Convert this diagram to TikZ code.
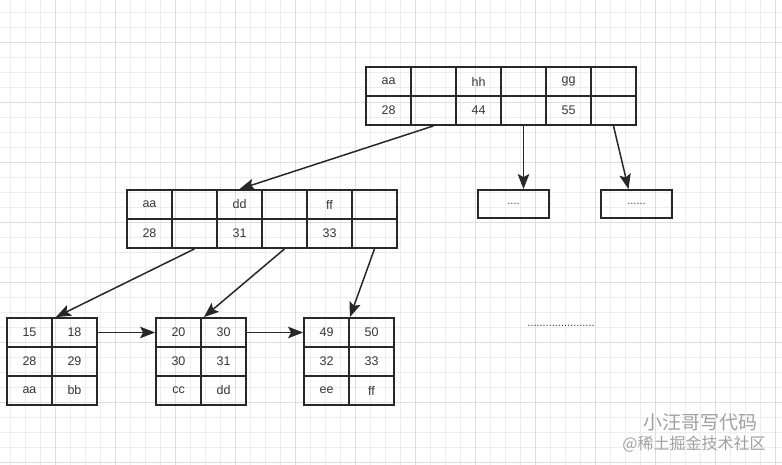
\documentclass[tikz,border=0pt]{standalone}
\usepackage{fontspec}
\setmainfont{Liberation Sans}
\newfontfamily\cjkfont{Noto Sans CJK SC}
\usetikzlibrary{arrows.meta,positioning,calc}
\definecolor{lineGray}{RGB}{40,40,40}
\definecolor{textGray}{RGB}{55,55,55}
\definecolor{gridMinor}{RGB}{237,237,237}
\definecolor{gridMajor}{RGB}{222,222,222}
\definecolor{markGray}{RGB}{160,160,160}
\tikzset{
  cell/.style={draw=lineGray, line width=1.8pt, minimum width=45pt, minimum height=29pt,
    inner sep=0pt, text=textGray, font=\fontsize{12.5}{14}\selectfont},
  dotbox/.style={draw=lineGray, line width=1.8pt, minimum width=71pt, minimum height=28pt,
    inner sep=0pt, text=textGray, font=\fontsize{11}{13}\selectfont},
  link/.style={draw=lineGray, line width=1.5pt, -{Stealth[length=15pt,width=11.5pt,inset=3pt]}},
}

\begin{document}
\begin{tikzpicture}[x=1pt,y=-1pt]
    \useasboundingbox (0,0) rectangle (782,465);
    \fill[white] (0,0) rectangle (782,465);
    % grid paper
    \foreach \gx in {10,25,...,780} \draw[gridMinor, line width=0.8pt] (\gx,0) -- (\gx,465);
    \foreach \gy in {12,27,...,465} \draw[gridMinor, line width=0.8pt] (0,\gy) -- (782,\gy);
    \foreach \gx in {55,115,...,780} \draw[gridMajor, line width=0.9pt] (\gx,0) -- (\gx,465);
    \foreach \gy in {42,102,...,465} \draw[gridMajor, line width=0.9pt] (0,\gy) -- (782,\gy);
    % root page
    \foreach \lbl [count=\c] in {aa,,hh,,gg,}
      \node[cell] (t1\c) at ({388.5+45*(\c-1)},81.5) {\lbl};
    \foreach \lbl [count=\c] in {28,,44,,55,}
      \node[cell] (t2\c) at ({388.5+45*(\c-1)},110.5) {\lbl};
    % inner page
    \foreach \lbl [count=\c] in {aa,,dd,,ff,}
      \node[cell] (m1\c) at ({149.5+45*(\c-1)},204.5) {\lbl};
    \foreach \lbl [count=\c] in {28,,31,,33,}
      \node[cell] (m2\c) at ({149.5+45*(\c-1)},233.5) {\lbl};
    \node[dotbox] (dotsA) at (513.5,204) {....};
    \node[dotbox] (dotsB) at (636.5,204) {......};
    % leaf pages
    \foreach \name/\xa/\ka/\kb/\va/\vb/\wa/\wb in
        {lfa/29.5/15/18/28/29/aa/bb, lfb/178.5/20/30/30/31/cc/dd, lfc/326.5/49/50/32/33/ee/ff} {
      \node[cell] (\name11) at (\xa,332.5) {\ka};
      \node[cell] (\name12) at (\xa+45,332.5) {\kb};
      \node[cell] (\name21) at (\xa,361.5) {\va};
      \node[cell] (\name22) at (\xa+45,361.5) {\vb};
      \node[cell] (\name31) at (\xa,390.5) {\wa};
      \node[cell] (\name32) at (\xa+45,390.5) {\wb};
    }
    \node[text=textGray, font=\fontsize{11}{13}\selectfont] (more) at (561,326) {......................};
    % pointers
    \draw[link] (t22.south) -- (m13.north);
    \draw[link] (t24.south) -- (t24.south |- dotsA.north);
    \draw[link] (t26.south) -- ($(dotsB.north)+(-8,0)$);
    \draw[link] (m22.south) -- ($(lfa11.north east)+(3,0)$);
    \draw[link] (m24.south) -- ($(lfb11.north east)+(2,0)$);
    \draw[link] (m26.south) -- (lfc11.north east);
    \draw[link] (lfa12.east) -- (lfb11.west);
    \draw[link] (lfb12.east) -- (lfc11.west);
    % watermark
    \node[text=markGray, font=\cjkfont\fontsize{19}{21}\selectfont] (wmName) at (700,422) {小汪哥写代码};
    \node[text=markGray, font=\cjkfont\fontsize{16}{18}\selectfont] (wmSite) at (694,444) {@稀土掘金技术社区};
  \end{tikzpicture}
\end{document}
